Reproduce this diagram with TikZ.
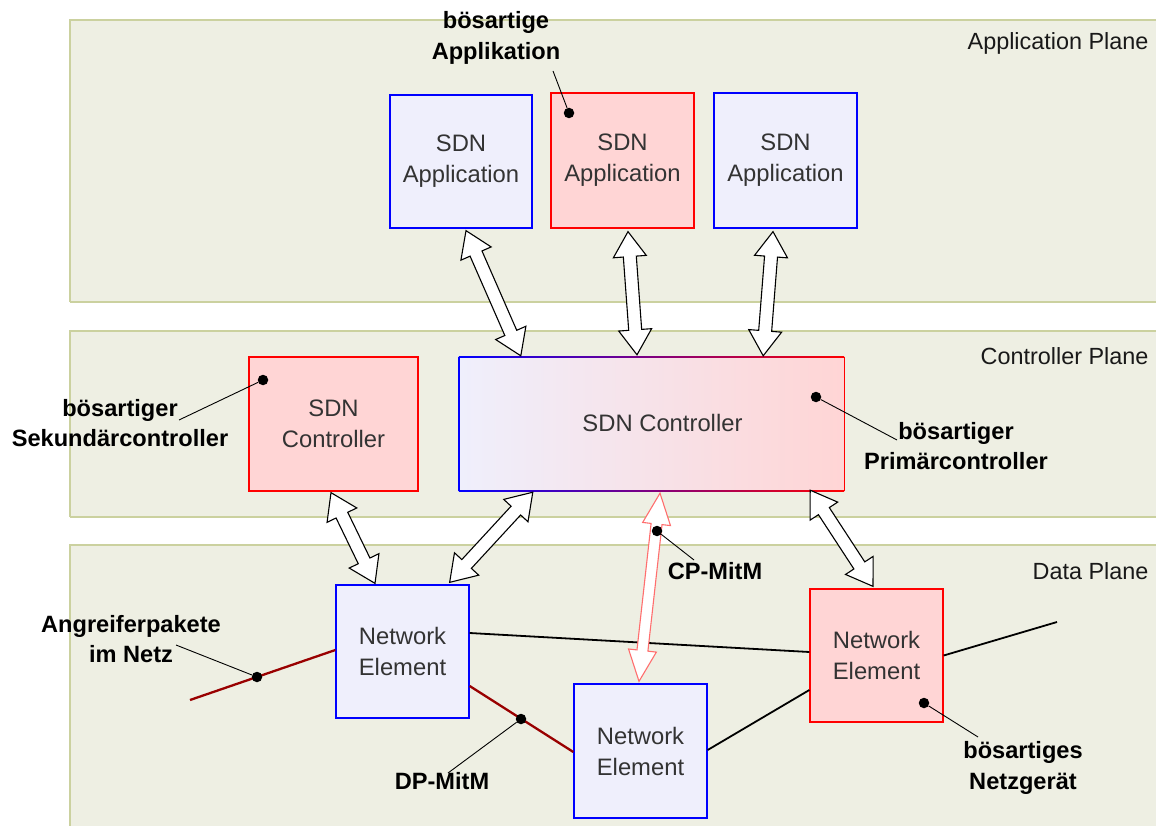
\documentclass[tikz,border=0pt]{standalone}
\usepackage{fontspec}
\setmainfont{Liberation Sans}
\usetikzlibrary{calc}

\definecolor{planefill}{HTML}{EEEFE3}
\definecolor{planeline}{HTML}{CBD19F}
\definecolor{benign}{HTML}{EFEFFC}
\definecolor{evil}{HTML}{FFD5D5}
\definecolor{boxtext}{HTML}{333333}
\definecolor{linkred}{HTML}{990000}
\definecolor{cparrow}{HTML}{FF6E6E}

% hollow double-headed arrow: style, head length, head half-width, shaft half-width, from, to
\newcommand\dblarrow[6]{%
  \draw[#1] (#5)
    -- ($(#5)!#2!(#6)!#3!90:(#6)$)
    -- ($(#5)!#2!(#6)!#4!90:(#6)$)
    -- ($(#6)!#2!(#5)!#4!-90:(#5)$)
    -- ($(#6)!#2!(#5)!#3!-90:(#5)$)
    -- (#6)
    -- ($(#6)!#2!(#5)!#3!90:(#5)$)
    -- ($(#6)!#2!(#5)!#4!90:(#5)$)
    -- ($(#5)!#2!(#6)!#4!-90:(#6)$)
    -- ($(#5)!#2!(#6)!#3!-90:(#6)$)
    -- cycle;}

\begin{document}
\begin{tikzpicture}[x=1pt,y=-1pt,
  plane/.style={fill=planefill,draw=none},
  planeedge/.style={draw=planeline,line width=1.5pt},
  planelabel/.style={anchor=east,text=black!90,font=\fontsize{23.4}{30}\selectfont},
  box/.style={draw,line width=1.3pt,align=center,text=boxtext,inner sep=0pt,
    font=\fontsize{23.8}{31}\selectfont},
  good/.style={box,fill=benign,draw=blue},
  bad/.style={box,fill=evil,draw=red},
  note/.style={font=\bfseries\fontsize{23.6}{30.5}\selectfont,inner sep=0pt,align=center},
  leader/.style={draw=black,line width=0.9pt},
  spot/.style={circle,fill=black,inner sep=0pt,minimum size=10.5pt},
  hollow/.style={draw=black,fill=white,line width=1.1pt,line join=miter},
  hollowred/.style={draw=cparrow,fill=white,line width=1.1pt,line join=miter},
  link/.style={draw=black,line width=1.8pt},
  badlink/.style={draw=linkred,line width=2.3pt}]

\useasboundingbox (0,0) rectangle (1156,826);

% planes
\fill[plane] (70,20) rectangle (1160,302);
\draw[planeedge] (1160,20) -- (70,20) -- (70,302);
\fill[plane] (70,331) rectangle (1160,517);
\draw[planeedge] (1160,331) -- (70,331) -- (70,517);
\draw[planeedge] (70,517) -- (1160,517);
\draw[planeedge] (70,302) -- (1160,302);
\fill[plane] (70,545) rectangle (1160,830);
\draw[planeedge] (1160,545) -- (70,545) -- (70,830);

\node[planelabel] (lapp) at (1152,43) {Application Plane};
\node[planelabel] (lctl) at (1152,356) {Controller Plane};
\node[planelabel] (ldat) at (1152,571) {Data Plane};

% application plane
\node[good,minimum width=142pt,minimum height=133pt] (app1) at (461,161.5) {SDN\\Application};
\node[bad,minimum width=143pt,minimum height=135pt] (app2) at (622.5,160.5) {SDN\\Application};
\node[good,minimum width=143pt,minimum height=135pt] (app3) at (785.5,160.5) {SDN\\Application};

% controller plane
\node[bad,minimum width=169pt,minimum height=134pt] (sctl) at (333.5,424) {SDN\\Controller};
\node[inner sep=0pt,minimum width=385pt,minimum height=134pt] (pctl) at (651.5,424) {};
\shade[left color=benign,right color=evil] (pctl.north west) rectangle (pctl.south east);
\shade[left color=blue,right color=red] ($(pctl.north west)+(0,-0.7)$) rectangle ($(pctl.north east)+(0,0.7)$);
\shade[left color=blue,right color=red] ($(pctl.south west)+(0,-0.7)$) rectangle ($(pctl.south east)+(0,0.7)$);
\draw[blue,line width=1.4pt] (pctl.north west) -- (pctl.south west);
\draw[red,line width=1.4pt] (pctl.north east) -- (pctl.south east);
\node[text=boxtext,font=\fontsize{23.8}{31}\selectfont] (pctltxt) at ($(pctl.center)+(11,-1)$) {SDN Controller};

% data plane
\node[good,minimum width=133pt,minimum height=133pt] (ne1) at (402.5,651.5) {Network\\Element};
\node[good,minimum width=133pt,minimum height=134pt] (ne2) at (640.5,751) {Network\\Element};
\node[bad,minimum width=133pt,minimum height=133pt] (ne3) at (876.5,655.5) {Network\\Element};

% data plane links
\coordinate (outr) at (1057,622);
\coordinate (outl) at (190,700);
\draw[link] ($(ne1.east)+(0,-18.5)$) -- ($(ne3.west)+(0,-3.5)$);
\draw[link] (ne3.east) -- (outr);
\draw[link] ($(ne2.east)+(0,-1)$) -- ($(ne3.west)+(0,34.5)$);
\draw[badlink] (outl) -- ($(ne1.west)+(0,-1.5)$);
\draw[badlink] ($(ne1.east)+(0,34.5)$) -- ($(ne2.west)+(0,1)$);

% control channels
\coordinate (a1s) at ($(app1.south)+(5,2)$);
\coordinate (a1e) at ($(pctl.north west)+(62,-1)$);
\coordinate (a2s) at ($(app2.south)+(5.5,3)$);
\coordinate (a2e) at ($(pctl.north)+(-14.5,-2)$);
\coordinate (a3s) at ($(app3.south)+(-12.5,3)$);
\coordinate (a3e) at ($(pctl.north east)+(-81,-1)$);
\coordinate (a4s) at ($(sctl.south)+(-2.5,1)$);
\coordinate (a4e) at ($(ne1.north)+(-27.5,-1)$);
\coordinate (a5s) at ($(pctl.south west)+(74,1)$);
\coordinate (a5e) at ($(ne1.north east)+(-20,-2)$);
\coordinate (a6s) at ($(pctl.south east)+(-34,-1)$);
\coordinate (a6e) at ($(ne3.north)+(-3.5,-2)$);
\coordinate (a7s) at ($(pctl.south)+(8.5,2)$);
\coordinate (a7e) at ($(ne2.north)+(-1.5,-2)$);

\dblarrow{hollow}{25pt}{16.5pt}{6.5pt}{a1s}{a1e}
\dblarrow{hollow}{25pt}{16.5pt}{6.5pt}{a2s}{a2e}
\dblarrow{hollow}{25pt}{16.5pt}{6.5pt}{a3s}{a3e}
\dblarrow{hollow}{25pt}{16.5pt}{6.5pt}{a4s}{a4e}
\dblarrow{hollow}{25pt}{16.5pt}{6.5pt}{a5s}{a5e}
\dblarrow{hollow}{25pt}{16.5pt}{6.5pt}{a6s}{a6e}
\dblarrow{hollowred}{31pt}{14pt}{5.5pt}{a7s}{a7e}

% annotations
\node[note] (napp) at (496,38) {bösartige\\Applikation};
\node[spot] (dapp) at (569,113) {};
\coordinate (lapp1) at (553,71);
\draw[leader] (lapp1) -- (dapp);

\node[note] (nsek) at (120,423) {bösartiger\\Sekundärcontroller};
\node[spot] (dsek) at (263,380) {};
\coordinate (lsek) at (179,420);
\draw[leader] (lsek) -- (dsek);

\node[note] (npri) at (956,446) {bösartiger\\Primärcontroller};
\node[spot] (dpri) at (816,397) {};
\coordinate (lpri) at (897,440);
\draw[leader] (dpri) -- (lpri);

\node[note] (ncp) at (715,571) {CP-MitM};
\node[spot] (dcp) at (657,531) {};
\coordinate (lcp) at (694,560);
\draw[leader] (dcp) -- (lcp);

\node[note] (nang) at (131,639) {Angreiferpakete\\im Netz};
\node[spot] (dang) at (257,677) {};
\coordinate (lang) at (176,645);
\draw[leader] (lang) -- (dang);

\node[note] (ndp) at (442,781) {DP-MitM};
\node[spot] (ddp) at (521,719) {};
\coordinate (ldp) at (448,773);
\draw[leader] (ldp) -- (ddp);

\node[note] (nnet) at (1023,768) {bösartiges\\Netzgerät};
\node[spot] (dnet) at (924,703) {};
\coordinate (lnet) at (978,737);
\draw[leader] (dnet) -- (lnet);

\end{tikzpicture}
\end{document}
